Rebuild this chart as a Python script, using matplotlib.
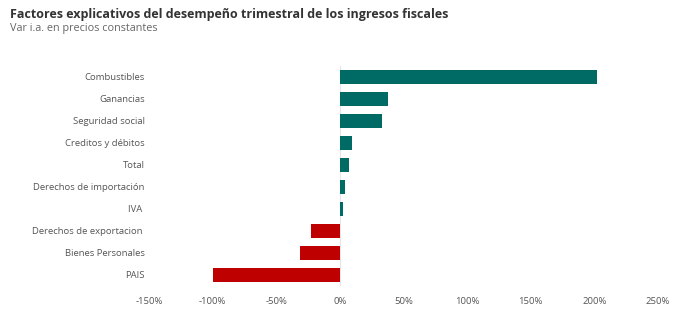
import matplotlib.pyplot as plt
from matplotlib.ticker import FuncFormatter

plt.rcParams['font.family'] = ['Open Sans', 'DejaVu Sans']

categorias = ['Combustibles', 'Ganancias', 'Seguridad social', 'Creditos y débitos', 'Total',
              'Derechos de importación', 'IVA ', 'Derechos de exportacion ', 'Bienes Personales', 'PAIS']
variacion = [202, 38, 33, 9.5, 7.5, 4, 2.8, -22.5, -31.5, -100]
ticks = [-150, -100, -50, 0, 50, 100, 150, 200, 250]

verde = '#006b64'
rojo = '#bf0000'
colores = [verde if v >= 0 else rojo for v in variacion]

fig = plt.figure(figsize=(6.83, 3.22), dpi=100)
ax = fig.add_axes([149 / 683, 1 - 286 / 322, 509 / 683, 220 / 322])

y = list(range(len(categorias)))
ax.barh(y, variacion, height=0.64, color=colores, zorder=2)
ax.axvline(0, color='#e6e6e6', lw=0.8, zorder=1)

ax.set_ylim(len(categorias) - 0.5, -0.5)
ax.set_xlim(ticks[0], ticks[-1])
ax.set_yticks(y)
ax.set_yticklabels(categorias)
ax.set_xticks(ticks)
ax.xaxis.set_major_formatter(FuncFormatter(lambda v, p: f'{v:.0f}%'))
ax.tick_params(length=0, labelsize=6.8, colors='#555555', pad=3)
ax.tick_params(axis='x', pad=8)
for s in ax.spines.values():
    s.set_visible(False)

fig.text(10 / 683, 1 - 18 / 322, 'Factores explicativos del desempeño trimestral de los ingresos fiscales',
         fontsize=9, fontweight='bold', color='#333333', va='baseline')
fig.text(10 / 683, 1 - 31 / 322, 'Var i.a. en precios constantes',
         fontsize=7.8, color='#666666', va='baseline')

fig.savefig('out.png', dpi=100)
